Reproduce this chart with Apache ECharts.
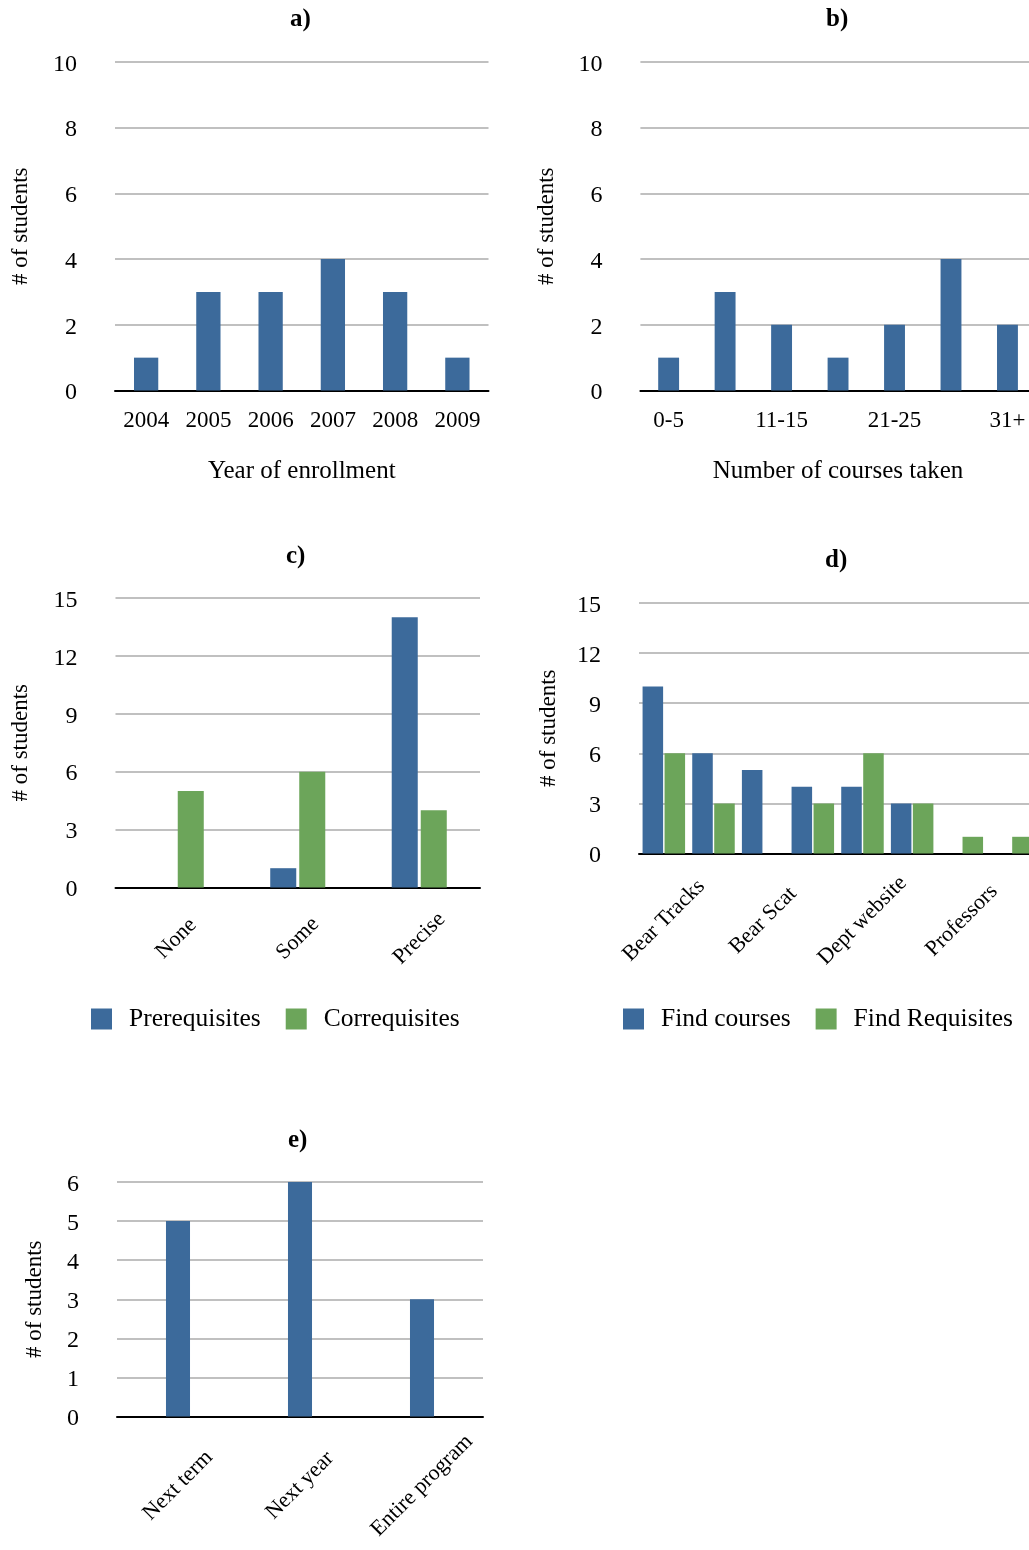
<!DOCTYPE html>
<html>
<head>
<meta charset="utf-8">
<title>Student survey charts</title>
<script src="https://cdn.jsdelivr.net/npm/echarts@6/dist/echarts.min.js"></script>
<style>
  html, body { margin: 0; padding: 0; background: #fff; }
  #chart { width: 1029px; height: 1550px; }
</style>
</head>
<body>
<div id="chart"></div>
<script>
// a) year of enrollment
const yearCats = ['2004', '2005', '2006', '2007', '2008', '2009'];
const yearCounts = [1, 3, 3, 4, 3, 1];

// b) number of courses taken (every other label is hidden in the original)
const courseCats = ['0-5', '6-10', '11-15', '16-20', '21-25', '26-30', '31+'];
const courseCounts = [1, 3, 2, 1, 2, 4, 2];

// c) knowledge of requisites
const detailCats = ['None', 'Some', 'Precise'];
const prereqCounts = [0, 1, 14];
const coreqCounts = [5, 6, 4];

// d) where students look things up (labels 2,4,6,8 are not shown in the original)
const sourceCats = ['Bear Tracks', 'Source 2', 'Bear Scat', 'Source 4', 'Dept website', 'Source 6', 'Professors', 'Source 8'];
const findCourses = [10, 6, 5, 4, 4, 3, 0, 0];
const findRequisites = [6, 3, 0, 3, 6, 3, 1, 1];

// e) planning horizon
const planCats = ['Next term', 'Next year', 'Entire program'];
const planCounts = [5, 6, 3];

const FONT = "'Liberation Serif', 'Times New Roman', serif";
const BLUE = '#3c6a9b';
const GREEN = '#6ca55a';
const GRID_GRAY = '#c0c0c0';

const makeGrid = (left, top, width, height) => ({
  left, top, width, height,
  containLabel: false,
  outerBoundsMode: 'none'
});

const makeX = (gridIndex, data, labelOpts, name) => ({
  type: 'category',
  gridIndex,
  data,
  name: name || '',
  nameLocation: 'middle',
  nameGap: 68,
  nameTextStyle: { fontFamily: FONT, fontSize: 25, color: '#000' },
  axisTick: { show: false },
  axisLine: { lineStyle: { color: '#000', width: 2 } },
  splitLine: { show: false },
  axisLabel: Object.assign({
    color: '#000',
    fontFamily: FONT,
    fontSize: 23,
    margin: 19,
    interval: 0
  }, labelOpts)
});

const makeY = (gridIndex, max, interval, nameGap) => ({
  type: 'value',
  gridIndex,
  min: 0,
  max,
  interval,
  name: '# of students',
  nameLocation: 'middle',
  nameGap,
  nameTextStyle: { fontFamily: FONT, fontSize: 23, color: '#000' },
  axisLine: { show: false },
  axisTick: { show: false },
  // numbers sit a touch below their gridline in the original
  axisLabel: {
    margin: 38,
    formatter: (value) => `{v|${value}}`,
    rich: {
      v: { color: '#000', fontFamily: FONT, fontSize: 24, padding: [5, 0, 0, 0] }
    }
  },
  splitLine: { lineStyle: { color: GRID_GRAY, width: 2 } }
});

const rotated = (margin) => ({
  rotate: 45,
  align: 'center',
  verticalAlign: 'middle',
  fontSize: 22,
  margin
});

const makeTitle = (text, left, top) => ({
  text,
  left,
  top,
  padding: 0,
  textStyle: { fontFamily: FONT, fontSize: 25, fontWeight: 'bold', color: '#000' }
});

const makeLegend = (data, left, top) => ({
  data,
  left,
  top,
  padding: 0,
  icon: 'rect',
  itemWidth: 21,
  itemHeight: 21,
  itemGap: 25,
  textStyle: { fontFamily: FONT, fontSize: 25.5, color: '#000', padding: [0, 0, 0, 12] }
});

const makeBar = (name, data, idx, color, catGap, gap) => ({
  type: 'bar',
  name,
  data,
  xAxisIndex: idx,
  yAxisIndex: idx,
  barCategoryGap: catGap,
  barGap: gap || '0%',
  itemStyle: { color },
  emphasis: { disabled: true }
});

const option = {
  animation: false,
  backgroundColor: '#fff',
  title: [
    makeTitle('a)', 290, 7),
    makeTitle('b)', 826, 7),
    makeTitle('c)', 286, 544),
    makeTitle('d)', 825, 548),
    makeTitle('e)', 288, 1128)
  ],
  legend: [
    makeLegend(['Prerequisites', 'Correquisites'], 91, 1006),
    makeLegend(['Find courses', 'Find Requisites'], 623, 1006)
  ],
  grid: [
    makeGrid(115, 62, 373.5, 328.5),
    makeGrid(640.4, 62, 395.3, 328.5),
    makeGrid(115.5, 598, 364.5, 289.5),
    makeGrid(639, 603, 397.3, 250.5),
    makeGrid(117, 1182, 366, 234.5)
  ],
  xAxis: [
    makeX(0, yearCats, {}, 'Year of enrollment'),
    makeX(1, courseCats, { interval: 1 }, 'Number of courses taken'),
    makeX(2, detailCats, rotated(51)),
    makeX(3, sourceCats, Object.assign(rotated(67), { interval: 1 })),
    makeX(4, planCats, rotated(69))
  ],
  yAxis: [
    makeY(0, 10, 2, 83),
    makeY(1, 10, 2, 82),
    makeY(2, 15, 3, 83),
    makeY(3, 15, 3, 79),
    makeY(4, 6, 1, 71)
  ],
  series: [
    makeBar('Enrollment', yearCounts, 0, BLUE, '61%'),
    makeBar('Courses', courseCounts, 1, BLUE, '63%'),
    makeBar('Prerequisites', prereqCounts, 2, BLUE, '54.7%', '11.5%'),
    makeBar('Correquisites', coreqCounts, 2, GREEN, '54.7%', '11.5%'),
    makeBar('Find courses', findCourses, 3, BLUE, '14.4%', '7%'),
    makeBar('Find Requisites', findRequisites, 3, GREEN, '14.4%', '7%'),
    makeBar('Planning', planCounts, 4, BLUE, '80.3%')
  ]
};

const chartInstance = echarts.init(document.getElementById('chart'), null, { renderer: 'canvas' });
chartInstance.setOption(option);
</script>
</body>
</html>
